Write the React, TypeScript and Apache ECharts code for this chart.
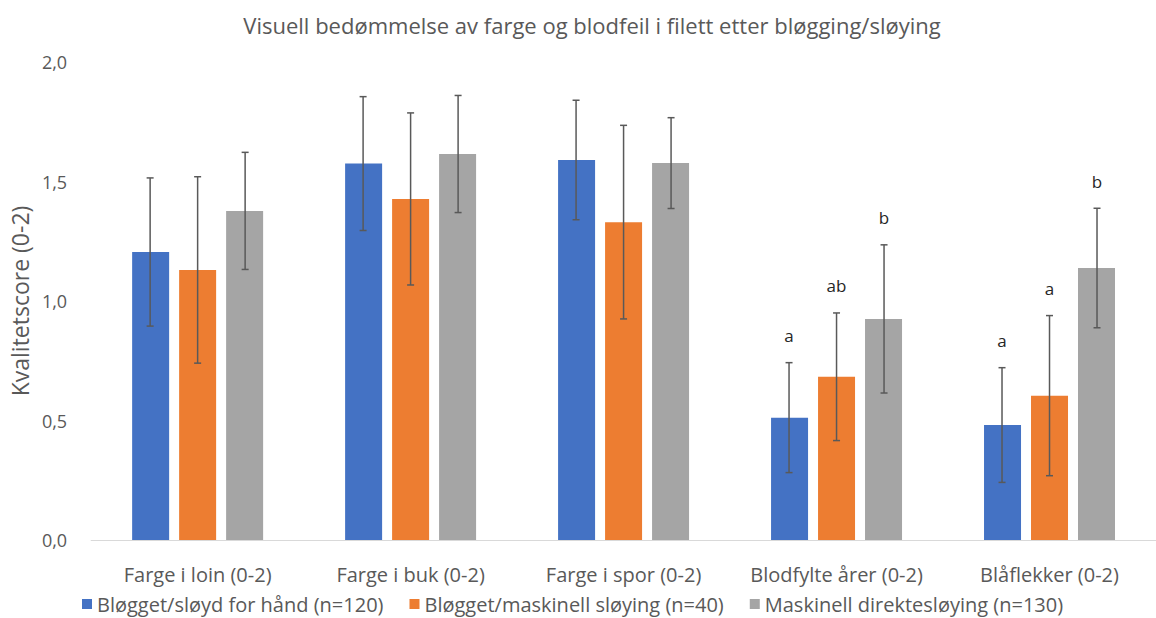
import React, { useEffect, useRef } from "react";
import * as echarts from "echarts";

const categories = [
  "Farge i loin (0-2)",
  "Farge i buk (0-2)",
  "Farge i spor (0-2)",
  "Blodfylte årer (0-2)",
  "Blåflekker (0-2)",
];
const seriesNames = [
  "Bløgget/sløyd for hånd (n=120)",
  "Bløgget/maskinell sløying (n=40)",
  "Maskinell direktesløying (n=130)",
];
const blueValues = [1.205, 1.575, 1.59, 0.512, 0.481];
const blueErr = [0.31, 0.28, 0.25, 0.23, 0.24];
const orangeValues = [1.13, 1.427, 1.33, 0.683, 0.604];
const orangeErr = [0.39, 0.36, 0.405, 0.267, 0.335];
const grayValues = [1.377, 1.615, 1.577, 0.925, 1.138];
const grayErr = [0.245, 0.245, 0.19, 0.31, 0.25];
const blueLetters = ["", "", "", "a", "a"];
const orangeLetters = ["", "", "", "ab", "a"];
const grayLetters = ["", "", "", "b", "b"];
const yTicks = [0, 0.5, 1.0, 1.5, 2.0];

const colors = ["#4472c4", "#ed7d31", "#a5a5a5"];
const FONT = "'Open Sans', sans-serif";
const TEXT = "#595959";

export default function App() {
  const ref = useRef<HTMLDivElement>(null);
  useEffect(() => {
    if (!ref.current) return;
    const chart = echarts.init(ref.current, null, { renderer: "svg" });
    const allValues = [blueValues, orangeValues, grayValues];
    const allErr = [blueErr, orangeErr, grayErr];
    const allLetters = [blueLetters, orangeLetters, grayLetters];
    const offsets = [-47.5, 0, 47.5];

    const barSeries = seriesNames.map((name, s) => ({
      name,
      type: "bar",
      data: allValues[s],
      barWidth: 37,
      barGap: "27%",
      itemStyle: { color: colors[s] },
      z: 2,
    }));

    const errSeries = [0, 1, 2].map((s) => ({
      type: "custom",
      name: "err" + s,
      z: 5,
      encode: { x: 0, y: 1 },
      data: allValues[s].map((v, i) => [i, v, allErr[s][i]]),
      renderItem: (params: any, api: any) => {
        const cat = api.value(0);
        const mean = api.value(1);
        const err = api.value(2);
        const top = api.coord([cat, mean + err]);
        const bot = api.coord([cat, mean - err]);
        const x = top[0] + offsets[s];
        const lineStyle = { stroke: "#595959", lineWidth: 1.5 };
        const children: any[] = [
          { type: "line", shape: { x1: x, y1: top[1], x2: x, y2: bot[1] }, style: lineStyle },
          { type: "line", shape: { x1: x - 3.5, y1: top[1], x2: x + 3.5, y2: top[1] }, style: lineStyle },
          { type: "line", shape: { x1: x - 3.5, y1: bot[1], x2: x + 3.5, y2: bot[1] }, style: lineStyle },
        ];
        const letter = allLetters[s][params.dataIndex];
        if (letter) {
          children.push({
            type: "text",
            style: {
              text: letter,
              x: x,
              y: top[1] - 27,
              textAlign: "center",
              textVerticalAlign: "middle",
              fill: "#262626",
              font: `17px ${FONT}`,
            },
          });
        }
        return { type: "group", children };
      },
    }));

    chart.setOption({
      animation: false,
      title: {
        text: "Visuell bedømmelse av farge og blodfeil i filett etter bløgging/sløying",
        left: 587,
        textAlign: "center",
        top: 9,
        textStyle: { color: TEXT, fontSize: 22, fontWeight: "normal", fontFamily: FONT },
      },
      legend: {
        data: seriesNames,
        top: 594,
        left: 82,
        padding: 0,
        itemWidth: 10,
        itemHeight: 10,
        itemGap: 26,
        icon: "rect",
        textStyle: { color: TEXT, fontSize: 20, lineHeight: 20, fontFamily: FONT },
      },
      grid: { left: 90, top: 62, width: 1078, height: 478 },
      xAxis: {
        type: "category",
        data: categories,
        axisLine: { lineStyle: { color: "#d9d9d9", width: 1 } },
        axisTick: { show: false },
        axisLabel: { color: TEXT, fontSize: 20, fontFamily: FONT, margin: 24, interval: 0 },
      },
      yAxis: {
        type: "value",
        min: yTicks[0],
        max: yTicks[yTicks.length - 1],
        interval: 0.5,
        name: "Kvalitetscore (0-2)",
        nameLocation: "middle",
        nameGap: 56,
        nameTextStyle: { color: TEXT, fontSize: 23, fontFamily: FONT },
        splitLine: { show: false },
        axisLine: { show: false },
        axisTick: { show: false },
        axisLabel: {
          color: TEXT,
          fontSize: 18,
          fontFamily: FONT,
          margin: 24,
          formatter: (v: number) => v.toFixed(1).replace(".", ","),
        },
      },
      series: [...barSeries, ...errSeries],
    });
    return () => chart.dispose();
  }, []);
  return (
    <div
      ref={ref}
      style={{ position: "fixed", left: 0, top: 0, width: 1156, height: 618, background: "#fff" }}
    />
  );
}
